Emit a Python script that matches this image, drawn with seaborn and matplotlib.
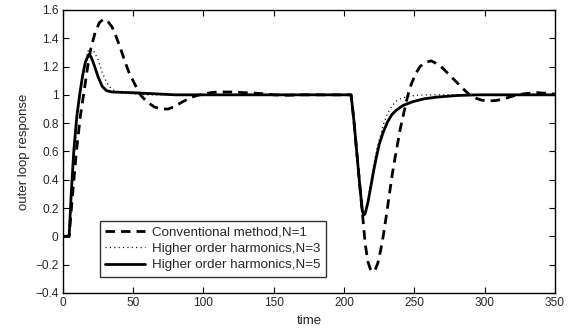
import numpy as np
import pandas as pd
import matplotlib
matplotlib.use("Agg")
import matplotlib.pyplot as plt
import seaborn as sns

# ---- data ----
t_n1 = [0, 4.5, 7, 9.7, 12.5, 15.5, 18, 20, 23, 26, 29, 32, 35, 38, 41, 44, 47, 50, 53, 56,
        60, 65, 70, 75, 80, 85, 90, 95, 100, 105, 110, 120, 130, 140, 150, 160, 170, 180, 205,
        207, 209, 211, 213, 215, 217, 219, 220.5, 222, 224, 226, 228, 230, 232, 234, 236, 238,
        240, 242, 244, 246, 248, 251, 254, 258, 262, 266, 270, 274, 278, 282, 286, 290, 294,
        298, 303, 308, 313, 318, 323, 330, 338, 345, 350]
y_n1 = [0, 0, 0.3, 0.6, 0.85, 1.05, 1.22, 1.33, 1.44, 1.51, 1.535, 1.52, 1.48, 1.41, 1.33, 1.24,
        1.16, 1.1, 1.04, 0.99, 0.95, 0.915, 0.9, 0.9, 0.92, 0.95, 0.975, 0.995, 1.005, 1.015,
        1.02, 1.02, 1.015, 1.01, 1.0, 0.997, 1.0, 1.0, 1.0,
        0.82, 0.6, 0.38, 0.17, -0.05, -0.18, -0.24, -0.25, -0.24, -0.19, -0.1, 0.01, 0.14,
        0.28, 0.42, 0.54, 0.65, 0.76, 0.85, 0.94, 1.02, 1.08, 1.15, 1.2, 1.23, 1.24, 1.22,
        1.19, 1.15, 1.11, 1.07, 1.03, 0.995, 0.975, 0.962, 0.957, 0.96, 0.97, 0.985, 1.0,
        1.01, 1.015, 1.01, 1.005]

t_n3 = [0, 4.5, 6, 8, 10, 12, 14, 16, 18, 20, 22, 25, 28, 31, 34, 38, 45, 60, 205,
        207, 209, 211, 213, 214, 215, 217, 219, 221, 223, 225, 228, 231, 234, 237, 241, 246,
        252, 260, 350]
y_n3 = [0, 0, 0.25, 0.55, 0.8, 0.98, 1.12, 1.24, 1.31, 1.33, 1.31, 1.25, 1.16, 1.09, 1.05,
        1.02, 1.01, 1.0, 1.0,
        0.82, 0.6, 0.38, 0.2, 0.16, 0.17, 0.26, 0.38, 0.5, 0.6, 0.68, 0.79, 0.87, 0.92, 0.955,
        0.976, 0.99, 0.997, 1.0, 1.0]

t_n5 = [0, 4.5, 6, 7.8, 10, 12, 14, 16, 18.5, 20, 22, 25, 28, 31, 35, 50, 60, 80, 205,
        207, 209, 211, 213, 214, 215, 217, 219, 221, 223, 225, 228, 231, 234, 237, 242, 249,
        257, 266, 280, 295, 350]
y_n5 = [0, 0, 0.3, 0.6, 0.85, 1.0, 1.13, 1.23, 1.285, 1.27, 1.22, 1.13, 1.06, 1.03, 1.02,
        1.015, 1.01, 1.0, 1.0,
        0.82, 0.6, 0.38, 0.18, 0.15, 0.16, 0.24, 0.35, 0.46, 0.56, 0.65, 0.74, 0.81, 0.86,
        0.89, 0.925, 0.952, 0.972, 0.984, 0.995, 1.0, 1.0]

labels = ["Conventional method,N=1", "Higher order harmonics,N=3", "Higher order harmonics,N=5"]
x_ticks = [0, 50, 100, 150, 200, 250, 300, 350]
y_ticks = [-0.4, -0.2, 0, 0.2, 0.4, 0.6, 0.8, 1, 1.2, 1.4, 1.6]
y_tick_labels = ["\u22120.4", "\u22120.2", "0", "0.2", "0.4", "0.6", "0.8", "1", "1.2", "1.4", "1.6"]

# ---- style ----
sns.set_style("ticks")
plt.rcParams["font.family"] = ["Liberation Sans", "DejaVu Sans"]
plt.rcParams["xtick.direction"] = "in"
plt.rcParams["ytick.direction"] = "in"

fig = plt.figure(figsize=(5.76, 3.31), dpi=100)
ax = fig.add_axes([0.109, 0.115, 0.8545, 0.855])

sns.lineplot(x=t_n1, y=y_n1, ax=ax, color="black", linewidth=2.0, sort=False,
             label=labels[0], dashes=False)
sns.lineplot(x=t_n3, y=y_n3, ax=ax, color="black", linewidth=0.9, sort=False,
             label=labels[1], dashes=False)
sns.lineplot(x=t_n5, y=y_n5, ax=ax, color="black", linewidth=2.0, sort=False,
             label=labels[2], dashes=False)

lines = ax.get_lines()
lines[0].set_dashes((3.4, 2.2))
lines[1].set_dashes((0.9, 2.6))
lines[2].set_linestyle("-")

ax.set_xlim(0, 350)
ax.set_ylim(-0.4, 1.6)
ax.set_xticks(x_ticks)
ax.set_xticklabels([str(v) for v in x_ticks])
ax.set_yticks(y_ticks)
ax.set_yticklabels(y_tick_labels)
ax.tick_params(axis="both", which="both", top=True, right=True, length=4, width=0.8,
               labelsize=8.6, pad=3, color="black")
for sp in ax.spines.values():
    sp.set_visible(True)
    sp.set_linewidth(1.0)
    sp.set_color("black")

ax.set_xlabel("time", fontsize=9.5, labelpad=4)
ax.set_ylabel("outer loop response", fontsize=9.5, labelpad=4)

leg = ax.legend(loc="lower left", bbox_to_anchor=(0.075, 0.057), fontsize=9.6,
                frameon=True, fancybox=False, edgecolor="black", handlelength=3.0,
                borderpad=0.4, labelspacing=0.3, handletextpad=0.5, borderaxespad=0)
leg.get_frame().set_linewidth(1.0)

fig.savefig("out.png", dpi=100)
